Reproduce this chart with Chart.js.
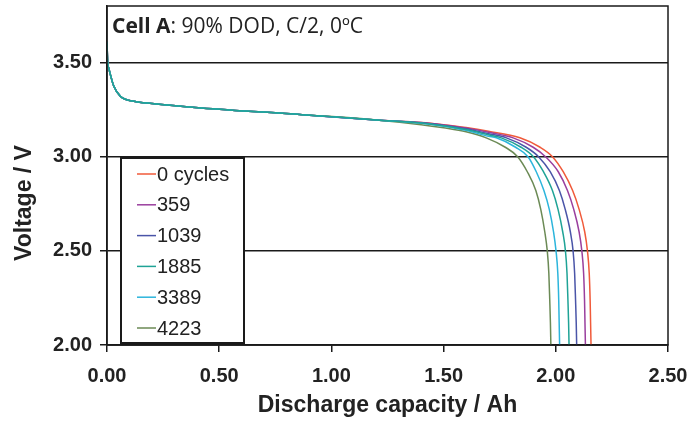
<!DOCTYPE html>
<html>
<head>
<meta charset="utf-8">
<script src="https://cdn.jsdelivr.net/npm/chart.js@4.4.1/dist/chart.umd.min.js"></script>
<style>
  html, body { margin: 0; padding: 0; background: #fff; }
  #wrap { width: 689px; height: 421px; }
</style>
</head>
<body>
<div id="wrap"><canvas id="chart" width="689" height="421"></canvas></div>
<script>
// Data
const cycleLabels = ["0 cycles", "359", "1039", "1885", "3389", "4223"]
const lineColors = ["#f05a3a", "#9a3f9e", "#4a55a8", "#1fa396", "#2cb5dc", "#6b8a55"]
// teal/cyan end up on top where the curves overlap
const drawOrder = [5, 4, 3, 0, 1, 2]

const xTicks = [0, 0.5, 1, 1.5, 2, 2.5]
const yTicks = [2, 2.5, 3, 3.5]

// shared start of discharge (all curves overlap here)
const headCap = [0, 0.003, 0.008, 0.013, 0.03, 0.06, 0.12, 0.2, 0.42, 0.87, 1.2]
const headVolt = [3.61, 3.5, 3.47, 3.445, 3.375, 3.32, 3.294, 3.282, 3.259, 3.223, 3.195]

// knee + end of discharge for each cycle count
const cap0 = [1.4, 1.5, 1.6, 1.7, 1.84, 1.93, 1.985, 2.033, 2.075, 2.104, 2.129, 2.141, 2.149, 2.153, 2.155, 2.157]
const volt0 = [3.182, 3.17, 3.155, 3.135, 3.1, 3.05, 3.0, 2.92, 2.82, 2.72, 2.6, 2.5, 2.38, 2.24, 2.12, 2.0]

const cap359 = [1.4, 1.5, 1.6, 1.7, 1.81, 1.899, 1.954, 2.011, 2.052, 2.08, 2.104, 2.116, 2.124, 2.128, 2.13, 2.132]
const volt359 = [3.181, 3.168, 3.152, 3.13, 3.1, 3.05, 3.0, 2.92, 2.82, 2.72, 2.6, 2.5, 2.38, 2.24, 2.12, 2.0]

const cap1039 = [1.4, 1.5, 1.6, 1.7, 1.78, 1.868, 1.923, 1.975, 2.016, 2.042, 2.065, 2.077, 2.084, 2.088, 2.091, 2.093]
const volt1039 = [3.18, 3.166, 3.148, 3.122, 3.1, 3.05, 3.0, 2.92, 2.82, 2.72, 2.6, 2.5, 2.38, 2.24, 2.12, 2.0]

const cap1885 = [1.4, 1.5, 1.6, 1.7, 1.757, 1.845, 1.9, 1.945, 1.985, 2.01, 2.031, 2.043, 2.05, 2.054, 2.057, 2.059]
const volt1885 = [3.179, 3.164, 3.144, 3.116, 3.1, 3.05, 3.0, 2.92, 2.82, 2.72, 2.6, 2.5, 2.38, 2.24, 2.12, 2.0]

const cap3389 = [1.4, 1.5, 1.6, 1.7, 1.735, 1.821, 1.876, 1.913, 1.947, 1.971, 1.99, 2.001, 2.009, 2.013, 2.015, 2.017]
const volt3389 = [3.178, 3.162, 3.14, 3.108, 3.1, 3.05, 3.0, 2.92, 2.82, 2.72, 2.6, 2.5, 2.38, 2.24, 2.12, 2.0]

const cap4223 = [1.4, 1.5, 1.6, 1.69, 1.775, 1.83, 1.873, 1.911, 1.933, 1.951, 1.962, 1.969, 1.973, 1.976, 1.978]
const volt4223 = [3.17, 3.153, 3.132, 3.1, 3.05, 3.0, 2.92, 2.82, 2.72, 2.6, 2.5, 2.38, 2.24, 2.12, 2.0]

const tailCaps = [cap0, cap359, cap1039, cap1885, cap3389, cap4223]
const tailVolts = [volt0, volt359, volt1039, volt1885, volt3389, volt4223]

function toPoints(caps, volts) {
  return caps.map((c, i) => ({ x: c, y: volts[i] }))
}

const datasets = cycleLabels.map((label, i) => ({
  label: label,
  data: toPoints(headCap.concat(tailCaps[i]), headVolt.concat(tailVolts[i])),
  borderColor: lineColors[i],
  backgroundColor: lineColors[i],
  borderWidth: 1.5,
  pointRadius: 0,
  cubicInterpolationMode: "monotone",
  fill: false,
  order: drawOrder[i],
}))

const textColor = "#222"

// box, in-plot legend, header text and rotated y title
const decorPlugin = {
  id: "decor",
  afterDatasetsDraw(chart) {
    const { ctx, chartArea } = chart
    ctx.save()

    // frame around the plot
    ctx.strokeStyle = "#1a1a1a"
    ctx.lineWidth = 1.5
    ctx.strokeRect(chartArea.left, chartArea.top, chartArea.right - chartArea.left, chartArea.bottom - chartArea.top)

    // legend box
    ctx.fillStyle = "#fff"
    ctx.fillRect(121, 158, 123, 185)
    ctx.lineWidth = 2
    ctx.strokeRect(121, 158, 123, 185)
    ctx.font = "20px 'Liberation Sans', Arial, sans-serif"
    ctx.textBaseline = "middle"
    ctx.textAlign = "left"
    cycleLabels.forEach((label, i) => {
      const y = 174 + i * 30.8
      ctx.strokeStyle = lineColors[i]
      ctx.lineWidth = 1.5
      ctx.beginPath()
      ctx.moveTo(137, y)
      ctx.lineTo(156, y)
      ctx.stroke()
      ctx.fillStyle = textColor
      ctx.fillText(label, 157, y + 1)
    })

    // header
    ctx.textBaseline = "alphabetic"
    ctx.fillStyle = textColor
    ctx.font = "bold 21px 'Open Sans', sans-serif"
    ctx.fillText("Cell A", 112, 33)
    const w = ctx.measureText("Cell A").width
    ctx.font = "21px 'Open Sans', sans-serif"
    ctx.fillText(": 90% DOD, C/2, 0ºC", 112 + w, 33)

    // y axis title
    ctx.translate(25, 203)
    ctx.rotate(-Math.PI / 2)
    ctx.textAlign = "center"
    ctx.textBaseline = "middle"
    ctx.font = "bold 23px 'Liberation Sans', Arial, sans-serif"
    ctx.fillText("Voltage / V", 0, 0)

    ctx.restore()
  },
}

const tickFont = { family: "'Liberation Sans', Arial, sans-serif", size: 20, weight: "bold" }

new Chart(document.getElementById("chart"), {
  type: "line",
  data: { datasets: datasets },
  options: {
    responsive: false,
    animation: false,
    devicePixelRatio: 1,
    layout: { padding: { left: 0, right: 21, top: 6, bottom: 0 } },
    plugins: {
      legend: { display: false },
      tooltip: { enabled: false },
    },
    scales: {
      x: {
        type: "linear",
        min: 0,
        max: 2.5,
        afterFit: (scale) => {
          scale.height = 76
          scale.paddingLeft = 0
          scale.paddingRight = 0
        },
        afterBuildTicks: (scale) => { scale.ticks = xTicks.map((v) => ({ value: v })) },
        grid: { drawOnChartArea: false, drawTicks: true, tickLength: 7, color: "#1a1a1a", lineWidth: 1.5 },
        border: { color: "#1a1a1a", width: 1.5 },
        ticks: {
          color: textColor,
          font: tickFont,
          padding: 12,
          maxRotation: 0,
          callback: (v) => Number(v).toFixed(2),
        },
        title: {
          display: true,
          text: "Discharge capacity / Ah",
          color: textColor,
          font: { family: "'Liberation Sans', Arial, sans-serif", size: 23, weight: "bold" },
          padding: { top: 0, bottom: 2 },
        },
      },
      y: {
        min: 2,
        max: 3.8,
        afterFit: (scale) => {
          scale.width = 107
          scale.paddingTop = 0
          scale.paddingBottom = 0
        },
        afterBuildTicks: (scale) => { scale.ticks = yTicks.map((v) => ({ value: v })) },
        grid: { drawTicks: true, tickLength: 7, color: "#1a1a1a", lineWidth: 1.5 },
        border: { color: "#1a1a1a", width: 1.5 },
        ticks: {
          color: textColor,
          font: tickFont,
          padding: 8,
          callback: (v) => Number(v).toFixed(2),
        },
      },
    },
  },
  plugins: [decorPlugin],
})
</script>
</body>
</html>
